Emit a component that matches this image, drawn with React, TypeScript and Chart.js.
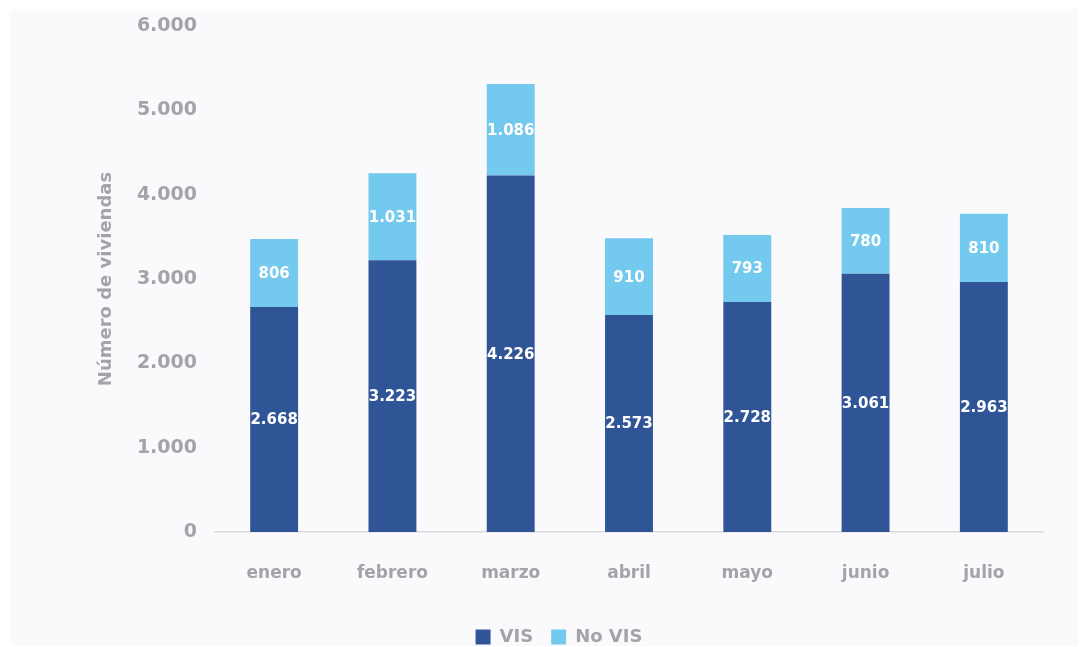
import React, { useEffect, useRef } from "react";
import { Chart, registerables } from "chart.js";

Chart.register(...registerables);

const months = ["enero", "febrero", "marzo", "abril", "mayo", "junio", "julio"];
const visValues = [2668, 3223, 4226, 2573, 2728, 3061, 2963];
const noVisValues = [806, 1031, 1086, 910, 793, 780, 810];
const seriesNames = ["VIS", "No VIS"];
const yTitle = "Número de viviendas";

const FONT = "'DejaVu Sans', sans-serif";
const GRAY = "#a2a4a7";

const fmt = (v: number) => String(Math.round(v)).replace(/\B(?=(\d{3})+(?!\d))/g, ".");

const labelPlugin = {
  id: "segLabels",
  afterDatasetsDraw(chart: any) {
    const ctx = chart.ctx;
    ctx.save();
    ctx.fillStyle = "#ffffff";
    ctx.font = `bold 15px ${FONT}`;
    ctx.textAlign = "center";
    ctx.textBaseline = "middle";
    chart.data.datasets.forEach((ds: any, i: number) => {
      const meta = chart.getDatasetMeta(i);
      meta.data.forEach((el: any, j: number) => {
        const p = el.getCenterPoint();
        ctx.fillText(fmt(ds.data[j]), p.x, p.y + 1);
      });
    });
    ctx.restore();
  },
};

export default function App() {
  const ref = useRef<HTMLCanvasElement>(null);
  useEffect(() => {
    if (!ref.current) return;
    const chart = new Chart(ref.current, {
      type: "bar",
      data: {
        labels: months,
        datasets: [
          { label: seriesNames[0], data: visValues, backgroundColor: "#2f5597", borderWidth: 0 },
          { label: seriesNames[1], data: noVisValues, backgroundColor: "#73c9ee", borderWidth: 0 },
        ],
      },
      options: {
        animation: false,
        responsive: false,
        maintainAspectRatio: false,
        layout: { padding: { left: 66, right: 43, top: 17, bottom: 0 } },
        datasets: { bar: { categoryPercentage: 1, barPercentage: 0.405 } },
        plugins: {
          tooltip: { enabled: false },
          legend: {
            position: "bottom",
            labels: {
              font: { family: FONT, size: 18, weight: "bold" },
              color: GRAY,
              boxWidth: 15,
              boxHeight: 15,
              padding: 18,
            },
          },
        },
        scales: {
          x: {
            stacked: true,
            grid: { display: false, drawTicks: false },
            border: { display: true, color: "#d9d9d9", width: 1.5 },
            ticks: { font: { family: FONT, size: 17, weight: "bold" }, color: GRAY, padding: 31 },
            afterFit: (s: any) => {
              s.height = 78;
              s.paddingLeft = 0;
              s.paddingRight = 0;
            },
          },
          y: {
            stacked: true,
            min: 0,
            max: 6000,
            grid: { display: false, drawTicks: false },
            border: { display: false },
            ticks: {
              stepSize: 1000,
              font: { family: FONT, size: 19, weight: "bold" },
              color: GRAY,
              padding: 18,
              callback: (v: any) => fmt(Number(v)),
            },
            title: {
              display: true,
              text: yTitle,
              font: { family: FONT, size: 18, weight: "bold" },
              color: GRAY,
              padding: { top: 21, bottom: 0 },
            },
            afterFit: (s: any) => {
              s.width = 140;
              s.paddingTop = 0;
              s.paddingBottom = 0;
            },
          },
        },
      } as any,
      plugins: [labelPlugin],
    });
    return () => chart.destroy();
  }, []);
  return (
    <div style={{ paddingTop: 1, paddingLeft: 1 }}>
      <div style={{ width: 1077, height: 637, background: "#fafafc", borderRadius: 8, overflow: "hidden" }}>
        <canvas ref={ref} width={1077} height={647} style={{ display: "block" }} />
      </div>
    </div>
  );
}
